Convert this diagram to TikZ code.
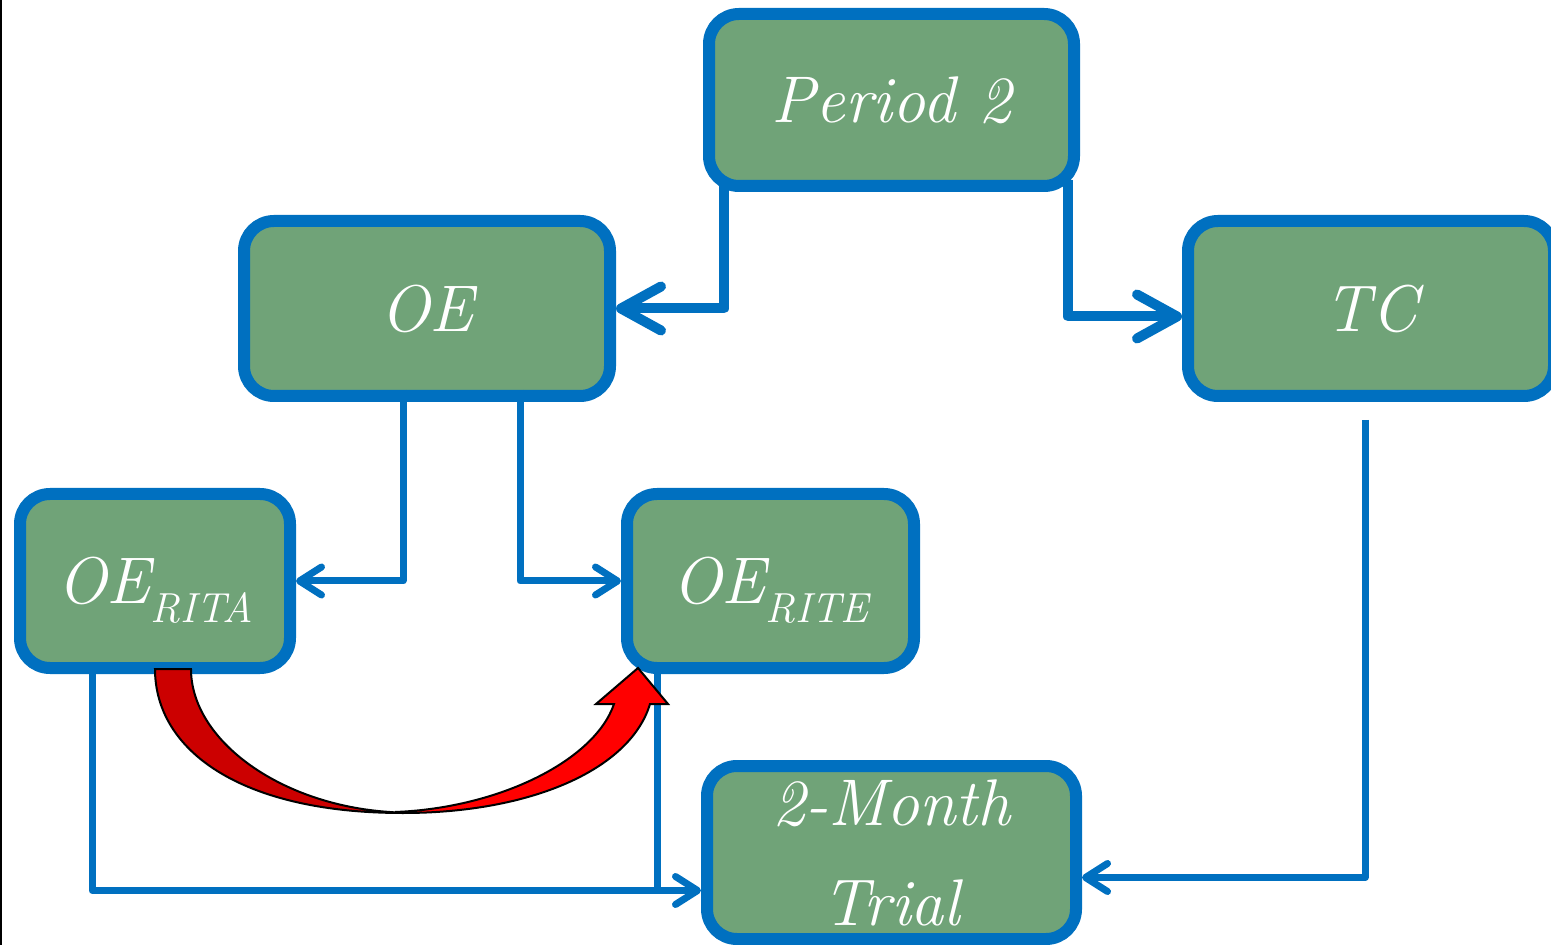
\documentclass[tikz,border=0pt]{standalone}
\usepackage{tikz}
\usetikzlibrary{arrows.meta}
\definecolor{boxgreen}{RGB}{112,163,120}
\definecolor{boxblue}{RGB}{0,112,192}
\definecolor{darkred}{RGB}{204,0,0}
\newcommand{\lowsub}[1]{\raisebox{-9.5pt}[0pt][0pt]{\fontsize{21}{21}\selectfont #1}}

\begin{document}
\begin{tikzpicture}[x=0.5pt,y=0.5pt]
\tikzstyle{box}=[draw=boxblue, fill=boxgreen, line width=6pt, rounded corners=15pt, text=white, inner sep=0pt, font=\fontsize{33}{50}\selectfont\itshape]
\tikzstyle{wire}=[draw=boxblue, line width=5pt, line join=round, -{Straight Barb[length=20pt,width=22pt,round]}]
\tikzstyle{thinwire}=[draw=boxblue, line width=3.5pt, line join=round, -{Straight Barb[length=11pt,width=14pt,round]}]
\useasboundingbox (0,0) rectangle (1551,-945);
\draw [black, line width=1pt] (1,0) -- (1,-945);
% boxes
\node [box, minimum width=182.5pt, minimum height=86pt] (period) at (891.5,-100) {Period 2};
\node [box, minimum width=183pt, minimum height=87.5pt] (oe) at (427,-308.5) {OE};
\node [box, minimum width=183pt, minimum height=87.5pt] (tc) at (1371,-308.5) {TC};
\node [box, minimum width=135pt, minimum height=87pt] (rita) at (155,-581) {OE\lowsub{RITA}};
\node [box, minimum width=143.5pt, minimum height=87pt] (rite) at (770.5,-581) {OE\lowsub{RITE}};
\node [box, minimum width=184.5pt, minimum height=86.5pt, align=center] (trial) at (891.5,-852.5) {2-Month\\Trial};
% connectors
\draw [wire] ([shift={(-167.5,12)}]period.south) |- (oe.east);
\draw [wire] ([shift={(176.5,12)}]period.south) |- ([shift={(0,-8)}]tc.west);
\draw [thinwire] ([shift={(-24,12)}]oe.south) |- (rita.east);
\draw [thinwire] ([shift={(93,12)}]oe.south) |- (rite.west);
\draw [thinwire] ([shift={(-6,-18)}]tc.south) |- ([shift={(0,-25)}]trial.east);
\coordinate (tjoin) at ([shift={(0,-38)}]trial.west);
\draw [thinwire] ([shift={(-63,12)}]rita.south) |- (tjoin);
\draw [thinwire, -] ([shift={(-113.5,12)}]rite.south) coordinate (ritefoot) -- (ritefoot |- tjoin);
% red curved arrow
\filldraw [fill=red, draw=black, line width=1pt] (403,-813) .. controls (530,-813) and (630,-770) .. (650,-704) -- (668,-704) -- (638,-668) -- (596,-704) -- (614,-704) .. controls (595,-760) and (500,-808) .. (395,-812) -- cycle;
\filldraw [fill=darkred, draw=black, line width=1pt] (155,-669) .. controls (155,-750) and (240,-813) .. (403,-813) -- (390,-812) .. controls (280,-805) and (191,-740) .. (191,-669) -- cycle;
\end{tikzpicture}
\end{document}
